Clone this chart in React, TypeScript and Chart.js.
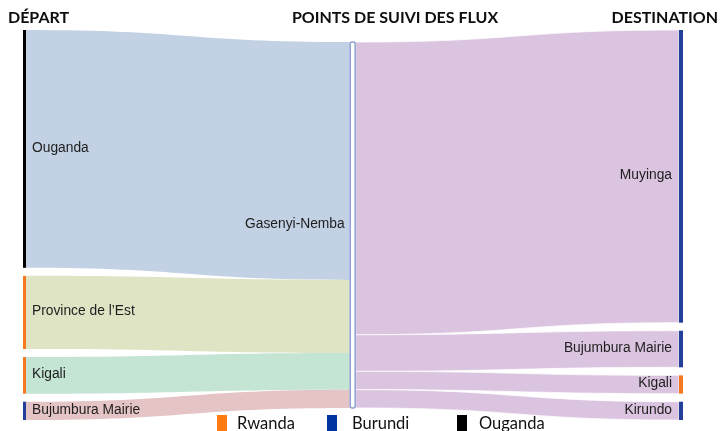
import React, { useEffect, useRef } from "react";
import { Chart, registerables } from "chart.js";

Chart.register(...registerables);

// ---- Data ----
const departs = ["Ouganda", "Province de l’Est", "Kigali", "Bujumbura Mairie"];
const departValues = [65, 20, 10, 5];
const departCountries = ["Ouganda", "Rwanda", "Rwanda", "Burundi"];
const departLinkColors = ["#c2d1e4", "#dfe4c4", "#c4e4d4", "#e5c4c6"];

const hubName = "Gasenyi-Nemba";

const destinations = ["Muyinga", "Bujumbura Mairie", "Kigali", "Kirundo"];
const destValues = [80, 10, 5, 5];
const destCountries = ["Burundi", "Burundi", "Rwanda", "Burundi"];
const destLinkColor = "#dbc4df";

const countries = ["Rwanda", "Burundi", "Ouganda"];
const countryColors = ["#f47920", "#22409a", "#000000"];
const legendColors = ["#ff7a10", "#0033a0", "#000000"];

const columnTitles = ["DÉPART", "POINTS DE SUIVI DES FLUX", "DESTINATION"];

// layout constants (not data)
const GAP = 2.2; // gap between stacked nodes, in value units
const HUB_X = 0.495;
const LEGEND_BOX_X = [217, 327, 457];
const LEGEND_TEXT_X = [237, 352, 479];

function countryColor(c: string) {
  return countryColors[countries.indexOf(c)];
}

function stack(values: number[], start: number, gap: number) {
  const out: [number, number][] = [];
  let y = start;
  values.forEach((v) => {
    out.push([y, y + v]);
    y += v + gap;
  });
  return out;
}

function link(
  ctx: CanvasRenderingContext2D,
  x0: number, a0: number, b0: number,
  x1: number, a1: number, b1: number
) {
  const xm = (x0 + x1) / 2;
  ctx.beginPath();
  ctx.moveTo(x0, a0);
  ctx.bezierCurveTo(xm, a0, xm, a1, x1, a1);
  ctx.lineTo(x1, b1);
  ctx.bezierCurveTo(xm, b1, xm, b0, x0, b0);
  ctx.closePath();
}

const sankeyPlugin = {
  id: "sankeyDraw",
  afterDraw(chart: any) {
    const ctx: CanvasRenderingContext2D = chart.ctx;
    const xs = chart.scales.x;
    const ys = chart.scales.y;
    const total = departValues.reduce((a, b) => a + b, 0);
    const maxY = ys.max;

    const leftStack = stack(departValues, 0, GAP);
    const hubStart = (maxY - total) / 2;
    const hubIn = stack(departValues, hubStart, 0);
    const hubOut = stack(destValues, hubStart, 0);
    const rightStack = stack(destValues, 0, GAP);

    const xL = xs.getPixelForValue(0);
    const xH = xs.getPixelForValue(HUB_X);
    const xR = xs.getPixelForValue(1);
    const leftW = 3;
    const hubW = 6;
    const rightW = 4;
    const py = (v: number) => ys.getPixelForValue(v);

    ctx.save();
    // left links
    departValues.forEach((_, i) => {
      link(ctx, xL + leftW, py(leftStack[i][0]), py(leftStack[i][1]),
        xH, py(hubIn[i][0]), py(hubIn[i][1]));
      ctx.fillStyle = departLinkColors[i];
      ctx.fill();
    });
    // right links
    destValues.forEach((_, i) => {
      link(ctx, xH + hubW, py(hubOut[i][0]), py(hubOut[i][1]),
        xR - rightW, py(rightStack[i][0]), py(rightStack[i][1]));
      ctx.fillStyle = destLinkColor;
      ctx.fill();
      ctx.strokeStyle = "rgba(255,255,255,0.9)";
      ctx.lineWidth = 0.8;
      ctx.stroke();
    });

    // left nodes
    departValues.forEach((_, i) => {
      ctx.fillStyle = countryColor(departCountries[i]);
      ctx.fillRect(xL, py(leftStack[i][0]), leftW, py(leftStack[i][1]) - py(leftStack[i][0]));
    });
    // right nodes
    destValues.forEach((_, i) => {
      ctx.fillStyle = countryColor(destCountries[i]);
      ctx.fillRect(xR - rightW, py(rightStack[i][0]), rightW, py(rightStack[i][1]) - py(rightStack[i][0]));
    });
    // hub node
    const hTop = py(hubStart);
    const hBot = py(hubStart + total);
    ctx.beginPath();
    const r = 2;
    const hx = xH + 0.5;
    const hw = hubW - 1;
    ctx.moveTo(hx + r, hTop);
    ctx.lineTo(hx + hw - r, hTop);
    ctx.quadraticCurveTo(hx + hw, hTop, hx + hw, hTop + r);
    ctx.lineTo(hx + hw, hBot - r);
    ctx.quadraticCurveTo(hx + hw, hBot, hx + hw - r, hBot);
    ctx.lineTo(hx + r, hBot);
    ctx.quadraticCurveTo(hx, hBot, hx, hBot - r);
    ctx.lineTo(hx, hTop + r);
    ctx.quadraticCurveTo(hx, hTop, hx + r, hTop);
    ctx.closePath();
    ctx.fillStyle = "#ffffff";
    ctx.fill();
    ctx.strokeStyle = "#8b9fd0";
    ctx.lineWidth = 1.5;
    ctx.stroke();

    // node labels
    ctx.fillStyle = "#1e1e1e";
    ctx.font = "13.8px 'Liberation Sans', Arial, sans-serif";
    ctx.textBaseline = "middle";
    ctx.textAlign = "left";
    departs.forEach((name, i) => {
      ctx.fillText(name, xL + 9, py((leftStack[i][0] + leftStack[i][1]) / 2) - 1);
    });
    ctx.textAlign = "right";
    destinations.forEach((name, i) => {
      ctx.fillText(name, xR - 11, py((rightStack[i][0] + rightStack[i][1]) / 2) - 1);
    });
    ctx.fillText(hubName, xH - 5, py(hubStart + total / 2) - 1);

    // column titles
    ctx.fillStyle = "#0d0d0d";
    ctx.font = "bold 16px Lato, 'Open Sans', sans-serif";
    ctx.textBaseline = "middle";
    ctx.textAlign = "left";
    ctx.fillText(columnTitles[0], 8, 18);
    ctx.textAlign = "center";
    ctx.fillText(columnTitles[1], 395, 18);
    ctx.textAlign = "right";
    ctx.fillText(columnTitles[2], 718, 18);

    // legend
    ctx.font = "16.5px Lato, 'Open Sans', sans-serif";
    ctx.textAlign = "left";
    ctx.textBaseline = "middle";
    countries.forEach((c, i) => {
      ctx.fillStyle = legendColors[i];
      ctx.fillRect(LEGEND_BOX_X[i], 415, 10, 17);
      ctx.fillStyle = "#111111";
      ctx.fillText(c, LEGEND_TEXT_X[i], 423.5);
    });
    ctx.restore();
  },
};

export default function App() {
  const ref = useRef<HTMLCanvasElement | null>(null);
  useEffect(() => {
    if (!ref.current) return;
    const total = departValues.reduce((a, b) => a + b, 0);
    const chart = new Chart(ref.current, {
      type: "scatter",
      data: { datasets: [{ data: [], showLine: false }] },
      options: {
        animation: false,
        responsive: false,
        maintainAspectRatio: false,
        layout: { padding: { left: 23, right: 40, top: 30, bottom: 11 } },
        plugins: { legend: { display: false }, tooltip: { enabled: false } },
        scales: {
          x: { type: "linear", min: 0, max: 1, display: false },
          y: {
            type: "linear",
            min: 0,
            max: total + GAP * (departValues.length - 1),
            reverse: true,
            display: false,
          },
        },
      },
      plugins: [sankeyPlugin],
    });
    return () => chart.destroy();
  }, []);
  return (
    <div style={{ position: "fixed", left: 0, top: 0, width: 723, height: 431, background: "#fff" }}>
      <canvas ref={ref} width={723} height={431} style={{ display: "block" }} />
    </div>
  );
}
